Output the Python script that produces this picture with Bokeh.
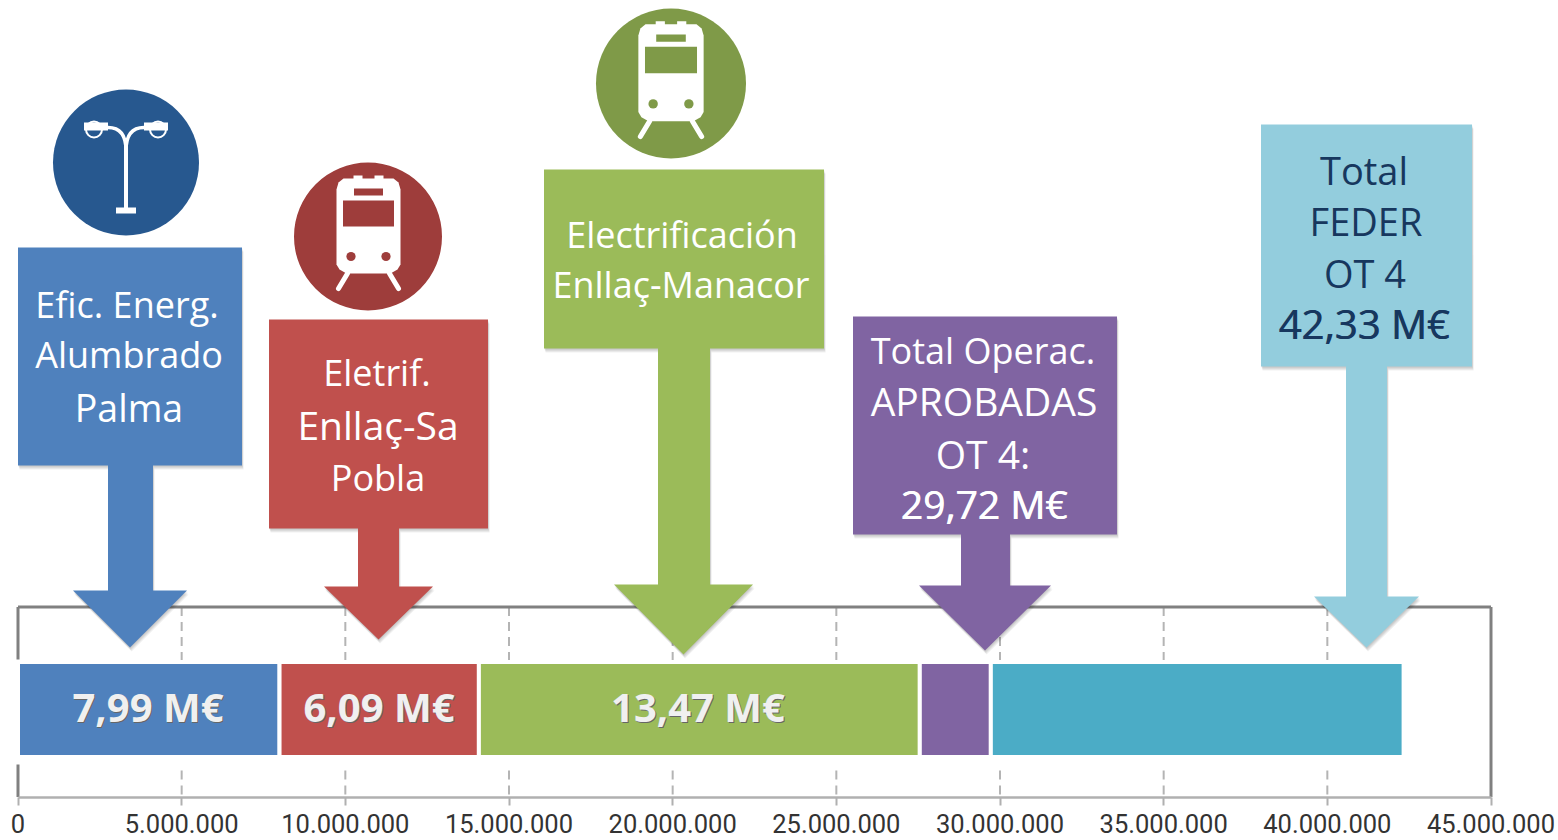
from bokeh.plotting import figure
from bokeh.models import Range1d, LinearAxis, FixedTicker
from bokeh.core.properties import value
from bokeh.embed import file_html
from bokeh.resources import INLINE

# ---- chart data ----
segments = ["Efic. Energ. Alumbrado Palma", "Eletrif. Enllaç-Sa Pobla",
            "Electrificación Enllaç-Manacor", "Resto Operac. aprobadas", "Resto FEDER"]
values_eur = [7.99e6, 6.09e6, 13.47e6, 2.17e6, 12.61e6]
bar_labels = ["7,99 M€", "6,09 M€", "13,47 M€", "", ""]
tick_values = [0, 5e6, 10e6, 15e6, 20e6, 25e6, 30e6, 35e6, 40e6, 45e6]
tick_labels = ["0", "5.000.000", "10.000.000", "15.000.000", "20.000.000",
               "25.000.000", "30.000.000", "35.000.000", "40.000.000", "45.000.000"]

BLUE, RED, GREEN, PURPLE, TEAL, SKY = "#4f81bd", "#c0504d", "#9bbb59", "#8064a2", "#4bacc6", "#93cddd"
bar_colors = [BLUE, RED, GREEN, PURPLE, TEAL]

# ---- layout: y and the "px" x-range are page pixels, the main x-range is euros ----
PX0, PX45 = 18.0, 1491.0
eur_per_px = 45e6 / (PX45 - PX0)
x_eur = Range1d((0.5 - PX0) * eur_per_px, (1558.5 - PX0) * eur_per_px)

p = figure(width=1558, height=840, x_range=x_eur, y_range=Range1d(840, 0),
           output_backend="svg", toolbar_location=None, x_axis_location=None,
           y_axis_location=None, min_border=0, outline_line_color=None,
           background_fill_color="white", border_fill_color="white")
p.extra_x_ranges["px"] = Range1d(0.5, 1558.5)
p.xgrid.visible = False
p.ygrid.visible = False

axis = LinearAxis(fixed_location=796.5, ticker=FixedTicker(ticks=tick_values),
                  major_label_overrides={v: t for v, t in zip(tick_values, tick_labels)},
                  bounds=(0, 45e6))
axis.axis_line_color = "#b0b0b0"
axis.axis_line_width = 2.5
axis.major_tick_line_color = "#b0b0b0"
axis.major_tick_line_width = 2
axis.major_tick_in = 0
axis.major_tick_out = 8
axis.minor_tick_line_color = None
axis.major_label_standoff = 9
axis.major_label_text_font = "Roboto"
axis.major_label_text_font_size = "25.5px"
axis.major_label_text_color = "#333333"
p.add_layout(axis, "below")

# frame and dashed grid
inner = tick_values[1:-1]
p.segment(inner, 606.5, inner, 660, line_color="#b4b4b4", line_width=2, line_dash="9 6")
p.segment(inner, 770, inner, 796.5, line_color="#b4b4b4", line_width=2, line_dash="9 6")
p.segment([0, 0, 45e6, 0], [606.5, 764, 606.5, 606.5], [0, 0, 45e6, 45e6], [659, 796.5, 796.5, 606.5],
          line_color="#808080", line_width=3)

# stacked bar
left, right, c = [], [], 0.0
for v in values_eur:
    left.append(c); c += v; right.append(c)
p.quad(left=left, right=right, top=661.5, bottom=756.5, fill_color=bar_colors,
       line_color="white", line_width=4)


def callout(box, shaft, head, tip_y, y_neck, color):
    x0, x1, y0, y1 = box
    s0, s1 = shaft
    h0, h1 = head
    cx = (h0 + h1) / 2
    xs = [x0, x1, x1, s1, s1, h1, cx, h0, s0, s0, x0]
    ys = [y0, y0, y1, y1, y_neck, y_neck, tip_y, y_neck, y_neck, y1, y1]
    for d in (1, 2, 3, 4):
        p.patch([x + d * 0.4 for x in xs], [y + d for y in ys], x_range_name="px",
                fill_color="#000000", fill_alpha=0.06, line_color=None)
    p.patch(xs, ys, x_range_name="px", fill_color=color, line_color=None)


callout((18, 242, 247, 465), (108, 153), (73, 187), 647, 590, BLUE)
callout((269, 488, 319, 528), (358, 399), (324, 433), 639, 586, RED)
callout((544, 824, 169, 348), (658, 710), (614, 753), 654, 584, GREEN)
callout((853, 1117, 316, 534), (961, 1010), (919, 1051), 650, 585, PURPLE)
callout((1261, 1472, 124, 366), (1346, 1387), (1314, 1419), 647, 596, SKY)

# icon discs
p.circle([126, 368, 671], [162, 236, 83], radius=[73, 74, 75], x_range_name="px",
         fill_color=["#27588f", "#9e3d3b", "#7f9a48"], line_color=None)


def train(cx, cy, k, color):
    X = lambda d: cx + d * k
    Y = lambda d: cy + d * k
    # body with chamfered corners
    bx = [-32, -30, -25, -10, 10, 25, 30, 32, 32, 29, 22, 10, -10, -22, -29, -32]
    by = [-47, -54, -58, -58, -58, -58, -54, -47, 28, 33, 37, 37, 37, 37, 33, 28]
    p.patch([X(v) for v in bx], [Y(v) for v in by], x_range_name="px", fill_color="white", line_color=None)
    p.quad(left=[X(-15), X(6)], right=[X(-6), X(15)], top=Y(-61), bottom=Y(-57), x_range_name="px",
           fill_color="white", line_color=None)
    p.quad(left=[X(-25.5), X(-14.5)], right=[X(25.5), X(14.5)], top=[Y(-36), Y(-48)], bottom=[Y(-10), Y(-41)],
           x_range_name="px", fill_color=color, line_color=None)
    p.circle([X(-17.5), X(17.5)], [Y(20), Y(20)], radius=4.6 * k, x_range_name="px",
             fill_color=color, line_color=None)
    p.segment([X(-21), X(21)], [Y(37), Y(37)], [X(-30), X(30)], [Y(52), Y(52)], x_range_name="px",
              line_color="white", line_width=5 * k, line_cap="round")


train(368.5, 236, 1.0, "#9e3d3b")
train(671, 83, 1.02, "#7f9a48")

# street lamp
W = "white"
p.quad(left=[124], right=[128], top=[140], bottom=[210], x_range_name="px", fill_color=W, line_color=None)
p.quad(left=[116], right=[136], top=[207], bottom=[213], x_range_name="px", fill_color=W, line_color=None)
p.bezier(x0=[126, 126], y0=[150, 150], x1=[108, 144], y1=[127, 127],
         cx0=[126, 126], cy0=[132, 132], cx1=[118, 134], cy1=[127, 127], x_range_name="px",
         line_color=W, line_width=3.5)
p.circle([94, 158], [129, 129], radius=8, x_range_name="px", fill_color="#27588f", line_color=W, line_width=2)
p.quad(left=[84, 144], right=[108, 168], top=[122, 122], bottom=[130, 130], x_range_name="px",
       fill_color=W, line_color=None)


def label(txts, color="white", size="36px", style="normal", font="Open Sans"):
    xs, ys, ts = zip(*txts)
    p.text(xs, ys, text=list(ts), x_range_name="px", text_color=color, text_font=value(font),
           text_font_size=size, text_font_style=style, text_align="center", text_baseline="middle")


label([(127, 304, "Efic. Energ."), (129, 354, "Alumbrado"),
       (377, 372, "Eletrif."), (378, 477, "Pobla"),
       (682, 234, "Electrificación"), (681, 284, "Enllaç-Manacor"),
       (983, 350, "Total Operac.")])
label([(129, 407, "Palma")], size="37.5px")
label([(378, 424, "Enllaç-Sa"), (984, 400, "APROBADAS"), (983, 453, "OT 4:")], size="39px")
label([(984, 503, "29,72 M€")], size="39px")
label([(984.7, 503, "29,72 M€")], size="39px")
label([(1364, 169, "Total"), (1366, 220, "FEDER"), (1365, 272, "OT 4")], color="#17375e", size="38px")
label([(1364, 323, "42,33 M€")], color="#17375e", size="40px")
label([(1364.7, 323, "42,33 M€")], color="#17375e", size="40px")

# bar value labels, centred on their bars with a soft shadow
bar_lab_x = [148, 379, 698]
bar_lab_t = [t for t in bar_labels if t]
label([(x + 1, 707, t) for x, t in zip(bar_lab_x, bar_lab_t)], color="#666666", size="40px", style="bold")
label([(x, 705.5, t) for x, t in zip(bar_lab_x, bar_lab_t)], color="#f0f0f0", size="40px", style="bold")

open("out.html", "w").write(file_html(p, INLINE))
